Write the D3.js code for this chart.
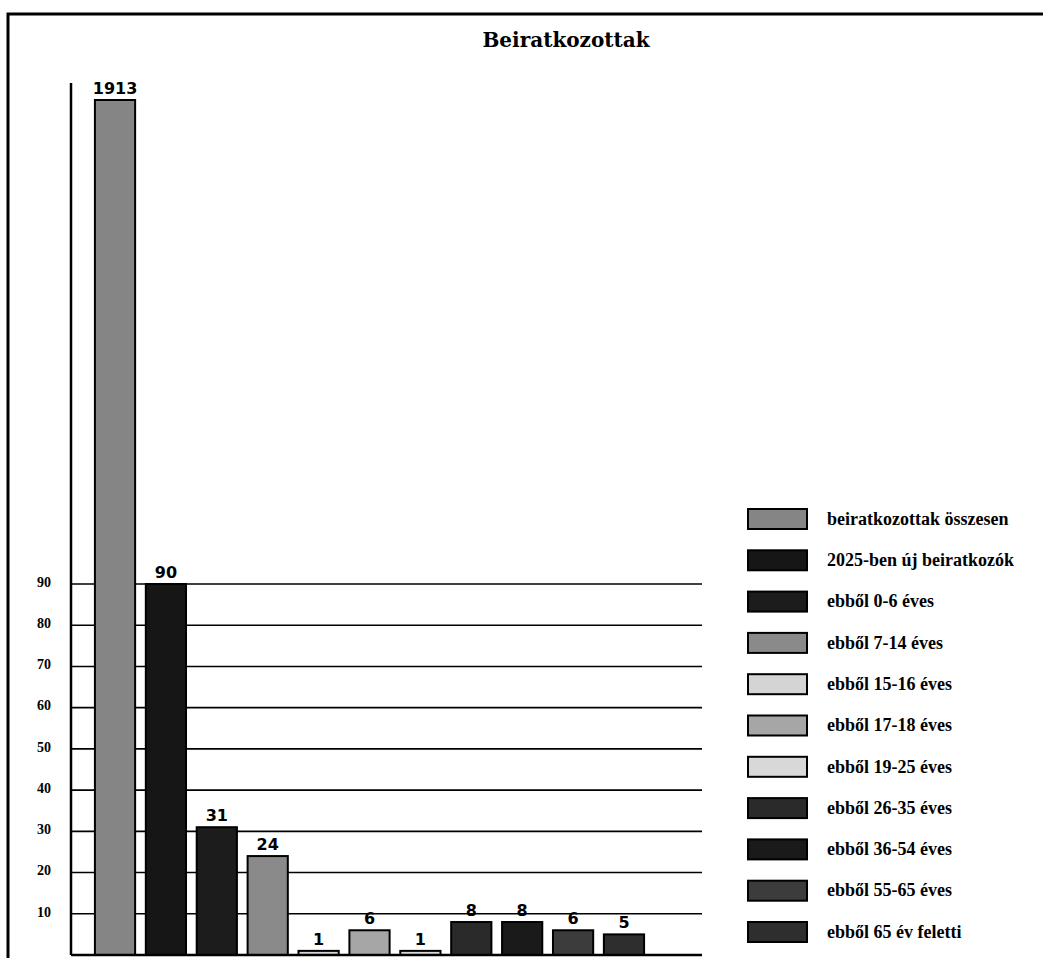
<!DOCTYPE html>
<html>
<head>
<meta charset="utf-8">
<script src="https://cdn.jsdelivr.net/npm/d3@7"></script>
<style>
    body { margin: 0; background: #fff; }
    svg { display: block; }
    .title { font-family: "DejaVu Serif", serif; font-weight: bold; font-size: 20px; }
    .tick-label { font-family: "Liberation Serif", serif; font-weight: bold; font-size: 14px; }
    .value-label { font-family: "DejaVu Sans", sans-serif; font-weight: bold; font-size: 16px; }
    .legend-label { font-family: "Liberation Serif", serif; font-weight: bold; font-size: 18px; }
</style>
</head>
<body>
<div class="chart"></div>
<script>
// data
const categories = [
    "beiratkozottak összesen",
    "2025-ben új beiratkozók",
    "ebből 0-6 éves",
    "ebből 7-14 éves",
    "ebből 15-16 éves",
    "ebből 17-18 éves",
    "ebből 19-25 éves",
    "ebből 26-35 éves",
    "ebből 36-54 éves",
    "ebből 55-65 éves",
    "ebből 65 év feletti"
];
const values = [1913, 90, 31, 24, 1, 6, 1, 8, 8, 6, 5];
const yTicks = [10, 20, 30, 40, 50, 60, 70, 80, 90];

// greys standing in for the dithered fills
const fills = ["#858585", "#161616", "#1c1c1c", "#8a8a8a", "#d4d4d4", "#a6a6a6",
    "#d8d8d8", "#2a2a2a", "#1a1a1a", "#3c3c3c", "#2e2e2e"];

const width = 1043, height = 958;
const plotLeft = 71, plotRight = 702, barsRight = 668;

const svg = d3.select(".chart").append("svg")
    .attr("width", width)
    .attr("height", height);

// frame (only top and left edges fall inside the picture)
svg.append("rect")
    .attr("x", 8).attr("y", 14)
    .attr("width", 1200).attr("height", 1200)
    .attr("fill", "none")
    .attr("stroke", "#000")
    .attr("stroke-width", 3);

svg.append("text")
    .attr("class", "title")
    .attr("x", 566).attr("y", 47)
    .attr("text-anchor", "middle")
    .text("Beiratkozottak");

// broken axis: 0-90 linear, then the total squeezed into the rest
const y = d3.scaleLinear()
    .domain([0, 90, 1913])
    .range([955, 584, 100]);

const x = d3.scaleBand()
    .domain(categories)
    .range([plotLeft, barsRight])
    .paddingInner(0.21)
    .paddingOuter(0.47);

// gridlines
svg.append("g")
    .selectAll("line")
    .data(yTicks)
    .enter().append("line")
    .attr("x1", plotLeft).attr("x2", plotRight)
    .attr("y1", d => y(d)).attr("y2", d => y(d))
    .attr("stroke", "#000")
    .attr("stroke-width", 1.6);

// y labels
svg.append("g")
    .selectAll("text")
    .data(yTicks)
    .enter().append("text")
    .attr("class", "tick-label")
    .attr("x", 51)
    .attr("y", d => y(d))
    .attr("dy", "0.2em")
    .attr("text-anchor", "end")
    .text(d => d);

// bars
svg.append("g")
    .selectAll("rect")
    .data(values)
    .enter().append("rect")
    .attr("x", (d, i) => x(categories[i]))
    .attr("y", d => y(d))
    .attr("width", x.bandwidth())
    .attr("height", d => y(0) - y(d))
    .attr("fill", (d, i) => fills[i])
    .attr("stroke", "#000")
    .attr("stroke-width", 2);

svg.append("g")
    .selectAll("text")
    .data(values)
    .enter().append("text")
    .attr("class", "value-label")
    .attr("x", (d, i) => x(categories[i]) + x.bandwidth() / 2)
    .attr("y", d => y(d) - 6)
    .attr("text-anchor", "middle")
    .text(d => d);

// axis line + baseline
svg.append("line")
    .attr("x1", plotLeft).attr("x2", plotLeft)
    .attr("y1", y(0)).attr("y2", y(1913) - 17)
    .attr("stroke", "#000").attr("stroke-width", 2.5);
svg.append("line")
    .attr("x1", plotLeft).attr("x2", plotRight)
    .attr("y1", y(0)).attr("y2", y(0))
    .attr("stroke", "#000").attr("stroke-width", 2.5);

// legend
const legendTop = 519, legendStep = 41.3;
const legend = svg.append("g")
    .selectAll("g")
    .data(categories)
    .enter().append("g")
    .attr("transform", (d, i) => `translate(748, ${legendTop + i * legendStep})`);

legend.append("rect")
    .attr("x", 0).attr("y", -10)
    .attr("width", 59).attr("height", 20)
    .attr("fill", (d, i) => fills[i])
    .attr("stroke", "#000")
    .attr("stroke-width", 2);

legend.append("text")
    .attr("class", "legend-label")
    .attr("x", 79)
    .attr("y", 0)
    .attr("dy", "0.32em")
    .text(d => d);
</script>
</body>
</html>
